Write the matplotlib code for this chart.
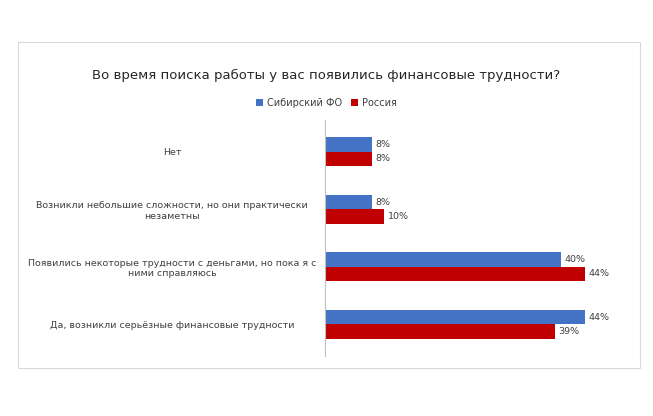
import numpy as np
import matplotlib.pyplot as plt
from matplotlib.patches import Rectangle

categories = ['Нет',
              'Возникли небольшие сложности, но они практически\nнезаметны',
              'Появились некоторые трудности с деньгами, но пока я с\nними справляюсь',
              'Да, возникли серьёзные финансовые трудности']
siberia = [8, 8, 40, 44]
russia = [8, 10, 44, 39]

fig = plt.figure(figsize=(6.53, 4.16), dpi=100)
fig.patches.append(Rectangle((18/653, 1-368/416), 622/653, 326/416, transform=fig.transFigure,
                             fill=False, edgecolor='#d9d9d9', linewidth=0.8))
ax = fig.add_axes([325/653, 1-356/416, 295/653, 236/416])

y = np.arange(len(categories))
h = 0.25
b1 = ax.barh(y - h/2, siberia, height=h, color='#4472C4', label='Сибирский ФО')
b2 = ax.barh(y + h/2, russia, height=h, color='#C00000', label='Россия')
for bars, vals in ((b1, siberia), (b2, russia)):
    for bar, v in zip(bars, vals):
        ax.text(bar.get_width() + 0.6, bar.get_y() + bar.get_height()/2, f'{v}%',
                va='center', ha='left', fontsize=6.8, color='#404040')

ax.set_ylim(3.55, -0.55)
ax.set_xlim(0, 50)
ax.set_yticks(y)
ax.set_yticklabels(categories, fontsize=6.8, color='#404040', ha='center')
ax.tick_params(axis='y', length=0, pad=110)
ax.set_xticks([])
for s in ['top', 'right', 'bottom']:
    ax.spines[s].set_visible(False)
ax.spines['left'].set_color('#bfbfbf')

fig.text(0.5, 1-75/416, 'Во время поиска работы у вас появились финансовые трудности?',
         ha='center', va='center', fontsize=9.5, color='#262626')
fig.legend(handles=[b1, b2], loc='center', bbox_to_anchor=(0.5, 1-103/416), ncol=2,
           frameon=False, fontsize=7, handlelength=0.7, handleheight=0.7,
           columnspacing=1.0, handletextpad=0.4, labelcolor='#404040')

fig.savefig('out.png', dpi=100)
